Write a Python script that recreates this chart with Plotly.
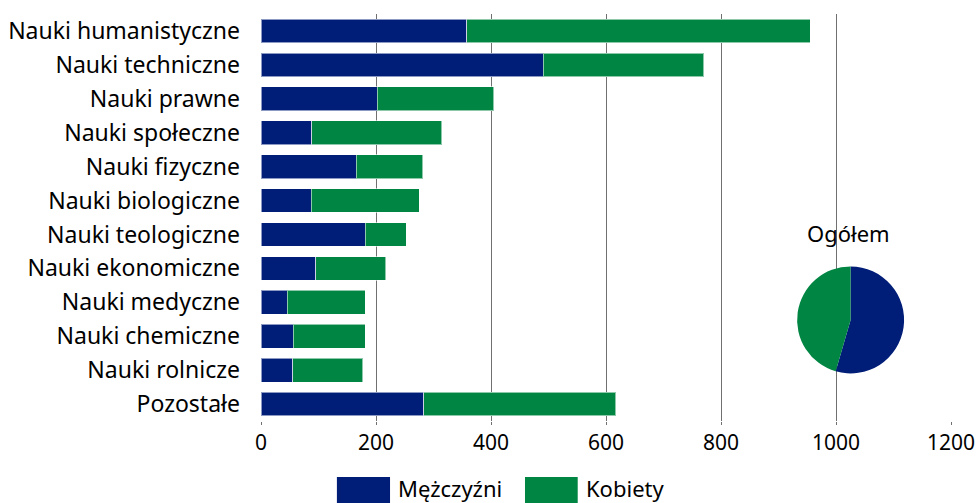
import plotly.graph_objects as go

categories = ["Nauki humanistyczne", "Nauki techniczne", "Nauki prawne", "Nauki społeczne",
              "Nauki fizyczne", "Nauki biologiczne", "Nauki teologiczne", "Nauki ekonomiczne",
              "Nauki medyczne", "Nauki chemiczne", "Nauki rolnicze", "Pozostałe"]
men = [358, 491, 202, 88, 166, 87, 181, 95, 46, 56, 55, 283]
women = [597, 279, 203, 226, 115, 188, 72, 122, 135, 125, 122, 334]
x_ticks = [0, 200, 400, 600, 800, 1000, 1200]
pie_labels = ["Mężczyźni", "Kobiety"]
pie_values = [54.5, 45.5]

BLUE = "#001E78"
GREEN = "#008542"
FONT = "Noto Sans"

fig = go.Figure()
fig.add_trace(go.Bar(y=categories, x=men, orientation="h", name="Mężczyźni",
                     marker=dict(color=BLUE, line=dict(color="rgba(255,255,255,0.55)", width=1)),
                     showlegend=False, hoverinfo="skip"))
fig.add_trace(go.Bar(y=categories, x=women, orientation="h", name="Kobiety",
                     marker=dict(color=GREEN, line=dict(color="rgba(255,255,255,0.55)", width=1)),
                     showlegend=False, hoverinfo="skip"))
fig.add_trace(go.Pie(labels=pie_labels, values=pie_values, sort=False, direction="clockwise",
                     rotation=0, marker=dict(colors=[BLUE, GREEN]), textinfo="none",
                     hoverinfo="skip", showlegend=False,
                     domain=dict(x=[0.777, 0.932], y=[0.1155, 0.381])))

shapes = [
    dict(type="rect", xref="paper", yref="paper", x0=0.110, x1=0.187, y0=-0.2015, y1=-0.1376,
         fillcolor=BLUE, line=dict(width=0)),
    dict(type="rect", xref="paper", yref="paper", x0=0.3826, x1=0.459, y0=-0.2015, y1=-0.1376,
         fillcolor=GREEN, line=dict(width=0)),
]
annotations = [
    dict(text="Mężczyźni", xref="paper", yref="paper", x=0.1957, y=-0.1646, xanchor="left",
         yanchor="middle", showarrow=False, font=dict(size=22, color="#000", family=FONT)),
    dict(text="Kobiety", xref="paper", yref="paper", x=0.468, y=-0.1646, xanchor="left",
         yanchor="middle", showarrow=False, font=dict(size=22, color="#000", family=FONT)),
    dict(text="Ogółem", xref="paper", yref="paper", x=0.851, y=0.462, xanchor="center",
         yanchor="middle", showarrow=False, font=dict(size=22, color="#000", family=FONT)),
]

fig.update_layout(
    barmode="stack", bargap=0.30,
    width=977, height=503, autosize=False,
    margin=dict(l=261, r=26, t=14, b=82, autoexpand=False),
    plot_bgcolor="white", paper_bgcolor="white",
    font=dict(family=FONT, size=22, color="#000"),
    shapes=shapes, annotations=annotations,
    xaxis=dict(range=[0, 1200], tickvals=x_ticks, ticktext=[str(v) for v in x_ticks],
               showgrid=True, gridcolor="#707070", gridwidth=1, zeroline=False,
               showline=False, ticks="outside", ticklen=3, tickcolor="#707070",
               automargin=False,
               tickfont=dict(size=21, family=FONT, color="#000")),
    yaxis=dict(autorange="reversed", showgrid=False, zeroline=False, showline=False,
               ticks="", ticklabelstandoff=20, automargin=False,
               tickfont=dict(size=23, family=FONT, color="#000")),
)
fig.write_html("out.html", config={"displayModeBar": False},
               post_script="document.body.style.margin='0';document.body.style.overflow='hidden';")
